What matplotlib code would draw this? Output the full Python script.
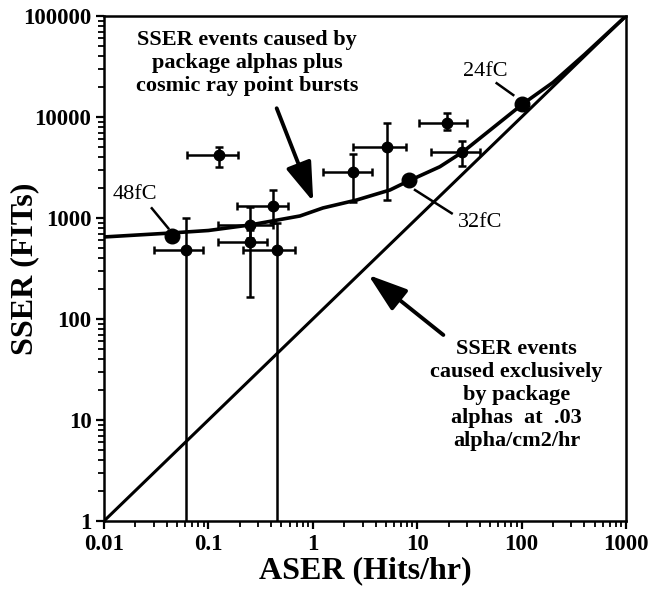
import matplotlib
matplotlib.use("Agg")
import matplotlib.pyplot as plt

plt.rcParams['font.family'] = ['Liberation Serif', 'DejaVu Serif']

# measured points: ASER (hits/hr) vs SSER (FITs) with error ranges
aser = [0.126, 0.0605, 0.42, 0.25, 0.25, 0.45, 2.44, 5.17, 19.5, 27.0]
sser = [4200, 482, 1315, 850, 582, 482, 2870, 5080, 8790, 4530]
aser_lo = [0.063, 0.030, 0.186, 0.124, 0.124, 0.213, 1.24, 2.44, 10.3, 13.6]
aser_hi = [0.19, 0.089, 0.58, 0.42, 0.361, 0.676, 3.66, 7.8, 29.8, 39.8]
sser_lo = [3230, 0.5, 900, 640, 166, 0.5, 1450, 1500, 7430, 3270]
sser_hi = [5100, 993, 1890, 1290, 760, 890, 4300, 8650, 11000, 5790]

# alphas + cosmic ray bursts model curve
curve_aser = [0.01, 0.0398, 0.1, 0.25, 0.753, 1.25, 2.63, 5.48, 8.0, 16.5, 27.5, 102, 200, 400, 1000]
curve_sser = [649, 706, 752, 853, 1047, 1257, 1507, 1893, 2290, 3220, 4530, 13400, 22000, 41500, 100000]

# package alphas only (.03 alpha/cm2/hr)
alpha_aser = [0.01, 1000]
alpha_sser = [1, 100000]

# critical charge points on the curve
qcrit_labels = ['48fC', '32fC', '24fC']
qcrit_aser = [0.0445, 8.4, 102]
qcrit_sser = [665, 2380, 13450]

fig = plt.figure(figsize=(6.52, 5.91), dpi=100)
ax = fig.add_axes([104/652, 1-521/591, 522/652, 505/591])
ax.set_xscale('log')
ax.set_yscale('log')

ax.plot(alpha_aser, alpha_sser, color='black', lw=2.2)
ax.plot(curve_aser, curve_sser, color='black', lw=2.6)

xerr = [[a - lo for a, lo in zip(aser, aser_lo)], [hi - a for a, hi in zip(aser, aser_hi)]]
yerr = [[s - lo for s, lo in zip(sser, sser_lo)], [hi - s for s, hi in zip(sser, sser_hi)]]
ax.errorbar(aser, sser, xerr=xerr, yerr=yerr, fmt='o', color='black', ms=7.5,
            elinewidth=1.8, capsize=3, capthick=1.8)

ax.plot(qcrit_aser, qcrit_sser, 'o', color='black', ms=10.5)

# critical charge labels with leader lines
lead = {'48fC': ((0.0198, 1690), (0.0287, 1248), (0.0413, 791)),
        '32fC': ((39.9, 893), (21.4, 1113), (9.53, 1893)),
        '24fC': ((44.6, 28100), (57.7, 21600), (83.2, 16500))}
for lab in qcrit_labels:
    txt, p0, p1 = lead[lab]
    ax.text(txt[0], txt[1], lab, ha='center', va='center', fontsize=16)
    ax.plot([p0[0], p1[0]], [p0[1], p1[1]], color='black', lw=1.8)

arrow = dict(arrowstyle='-|>,head_length=1.2,head_width=0.4', mutation_scale=20,
             color='black', lw=2.8, shrinkA=0, shrinkB=0)
ax.text(0.234, 34200, 'SSER events caused by\npackage alphas plus\ncosmic ray point bursts',
        ha='center', va='center', fontsize=16, fontweight='bold', linespacing=1.2)
ax.annotate('', xy=(1.01, 1450), xytext=(0.451, 12200), arrowprops=arrow)

ax.text(89.5, 17.7, 'SSER events\ncaused exclusively\nby package\nalphas  at  .03\nalpha/cm2/hr',
        ha='center', va='center', fontsize=16, fontweight='bold', linespacing=1.2)
ax.annotate('', xy=(3.4, 273), xytext=(17.8, 69.5), arrowprops=arrow)

ax.set_xlim(0.01, 1000)
ax.set_ylim(1, 100000)
ax.set_xticks([0.01, 0.1, 1, 10, 100, 1000])
ax.set_xticklabels(['0.01', '0.1', '1', '10', '100', '1000'])
ax.set_yticks([1, 10, 100, 1000, 10000, 100000])
ax.set_yticklabels(['1', '10', '100', '1000', '10000', '100000'])
ax.tick_params(which='major', length=6, width=1.6, labelsize=16.5, direction='out', pad=3)
ax.tick_params(which='minor', length=4, width=1.3, direction='out')
for lbl in ax.get_xticklabels() + ax.get_yticklabels():
    lbl.set_fontweight('bold')
for sp in ax.spines.values():
    sp.set_linewidth(1.8)

ax.set_xlabel('ASER (Hits/hr)', fontsize=23, fontweight='bold', labelpad=1)
ax.set_ylabel('SSER (FITs)', fontsize=23, fontweight='bold', va='center')
ax.yaxis.set_label_coords(-0.151, 0.5)

fig.savefig('out.png', dpi=100)
